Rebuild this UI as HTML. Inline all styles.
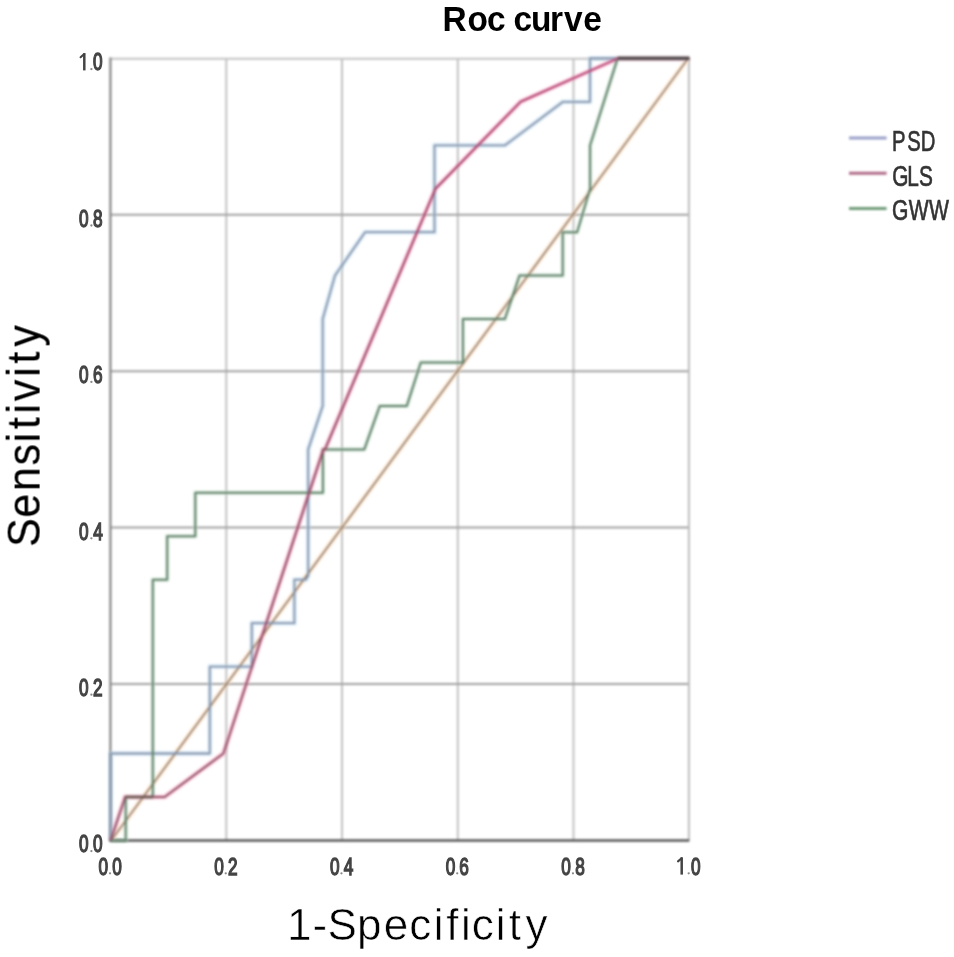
<!DOCTYPE html>
<html>
<head>
<meta charset="utf-8">
<style>
html,body{margin:0;padding:0;background:#fff;}
body{width:954px;height:957px;overflow:hidden;position:relative;font-family:"Liberation Sans",sans-serif;}
svg{position:absolute;left:0;top:0;}
.bg{filter:blur(0.8px);}
.bl{filter:blur(0.8px);}
.bt{filter:blur(0.6px);}
</style>
</head>
<body>
<svg width="954" height="957" viewBox="0 0 954 957">
<g class="bg" fill="none">
<line x1="226.3" y1="58.4" x2="226.3" y2="840.4" stroke="#c2c2c2" stroke-width="2.0"/>
<line x1="342.0" y1="58.4" x2="342.0" y2="840.4" stroke="#c2c2c2" stroke-width="2.0"/>
<line x1="457.8" y1="58.4" x2="457.8" y2="840.4" stroke="#c2c2c2" stroke-width="2.0"/>
<line x1="573.5" y1="58.4" x2="573.5" y2="840.4" stroke="#c2c2c2" stroke-width="2.0"/>
<line x1="110.6" y1="214.8" x2="689.3" y2="214.8" stroke="#a2a2a2" stroke-width="2.0"/>
<line x1="110.6" y1="371.2" x2="689.3" y2="371.2" stroke="#a2a2a2" stroke-width="2.0"/>
<line x1="110.6" y1="527.6" x2="689.3" y2="527.6" stroke="#a2a2a2" stroke-width="2.0"/>
<line x1="110.6" y1="684.0" x2="689.3" y2="684.0" stroke="#a2a2a2" stroke-width="2.0"/>
<line x1="110" y1="58.8" x2="689.3" y2="58.8" stroke="#c3c3c3" stroke-width="2"/>
<line x1="688.9" y1="58.4" x2="688.9" y2="840.4" stroke="#bdbdbd" stroke-width="2"/>
<line x1="110.4" y1="57.6" x2="110.4" y2="841" stroke="#858585" stroke-width="2.2"/>
<line x1="109.4" y1="840.5" x2="689.3" y2="840.5" stroke="#555555" stroke-width="2.6"/>
</g>
<g class="bl" fill="none" stroke-linejoin="round">
<line x1="111.2" y1="840.4" x2="688.2" y2="58.4" stroke="#fbd4ac" stroke-width="5.5" stroke-opacity="0.45"/>
<polyline stroke="#bcdcf0" stroke-width="5.5" stroke-opacity="0.45" points="110.6,840.4 110.6,753.5 209.8,753.5 209.8,666.6 251.8,666.6 251.8,623.2 294.4,623.2 294.4,579.7 305.8,579.7 308.2,575.8 308.2,449.4 322.7,405.9 322.7,319.1 335.0,275.6 365.0,232.2 434.5,232.2 434.5,145.3 505.0,145.3 563.0,101.8 590.0,101.8 590.0,58.4 689.3,58.4"/>
<polyline stroke="#cce4d0" stroke-width="5.5" stroke-opacity="0.45" points="110.6,840.4 125.7,840.4 125.7,797.0 152.8,797.0 152.8,579.7 167.2,579.7 167.2,536.3 195.3,536.3 195.3,492.8 322.9,492.8 322.9,449.4 364.3,449.4 379.8,405.9 406.8,405.9 420.8,362.5 462.9,362.5 462.9,319.1 504.8,319.1 519.5,275.6 562.7,275.6 562.7,232.2 577.1,232.2 590.1,188.7 590.1,145.3 617.6,58.4 689.3,58.4"/>
<polyline stroke="#f8a0c0" stroke-width="5.5" stroke-opacity="0.45" points="110.6,840.4 125.2,797.0 164.6,797.0 223.4,753.5 323.4,449.4 325.0,449.4 435.5,188.7 520.6,101.8 618.0,58.4 689.3,58.4"/>
<line x1="111.2" y1="840.4" x2="688.2" y2="58.4" stroke="#907868" stroke-width="1.5"/>
<polyline stroke="#8492aa" stroke-width="1.8" points="110.6,840.4 110.6,753.5 209.8,753.5 209.8,666.6 251.8,666.6 251.8,623.2 294.4,623.2 294.4,579.7 305.8,579.7 308.2,575.8 308.2,449.4 322.7,405.9 322.7,319.1 335.0,275.6 365.0,232.2 434.5,232.2 434.5,145.3 505.0,145.3 563.0,101.8 590.0,101.8 590.0,58.4 689.3,58.4"/>
<polyline stroke="#60806a" stroke-width="2.0" points="110.6,840.4 125.7,840.4 125.7,797.0 152.8,797.0 152.8,579.7 167.2,579.7 167.2,536.3 195.3,536.3 195.3,492.8 322.9,492.8 322.9,449.4 364.3,449.4 379.8,405.9 406.8,405.9 420.8,362.5 462.9,362.5 462.9,319.1 504.8,319.1 519.5,275.6 562.7,275.6 562.7,232.2 577.1,232.2 590.1,188.7 590.1,145.3 617.6,58.4 689.3,58.4"/>
<defs><linearGradient id="glsg" gradientUnits="userSpaceOnUse" x1="110" y1="840" x2="690" y2="58"><stop offset="0" stop-color="#94566a"/><stop offset="0.45" stop-color="#984e68"/><stop offset="0.75" stop-color="#aa486e"/><stop offset="1" stop-color="#bc4878"/></linearGradient></defs>
<polyline stroke="url(#glsg)" stroke-width="2.1" points="110.6,840.4 125.2,797.0 164.6,797.0 223.4,753.5 323.4,449.4 325.0,449.4 435.5,188.7 520.6,101.8 618.0,58.4 689.3,58.4"/>
<line x1="125.4" y1="797" x2="152.8" y2="797" stroke="#6a5650" stroke-width="2.6"/>
<line x1="617.8" y1="58.3" x2="689.3" y2="58.3" stroke="#4a4a48" stroke-width="3.1"/>
<line x1="849" y1="137.9" x2="886.6" y2="137.9" stroke="#9aa0c8" stroke-width="3"/>
<line x1="849" y1="173.2" x2="886.6" y2="173.2" stroke="#b06c88" stroke-width="3"/>
<line x1="849" y1="208.4" x2="886.6" y2="208.4" stroke="#6f9a78" stroke-width="3"/>
</g>
<g class="bt" font-family="Liberation Sans, sans-serif">
<text transform="scale(0.9697,1)" x="456.31 482.02 502.13 529.51 547.51 567.10 581.55 601.47" y="31.40" font-size="34.5" font-weight="bold" fill="#000">Roccurve</text>
<g font-size="24.6" fill="#444444" stroke="#444444" stroke-width="1.5">
<text transform="scale(0.7000,1)" x="112.73 133.02" y="852.40">00</text><circle cx="91.40" cy="851.10" r="1.15" fill="#8a8a8a" stroke="none"/>
<text transform="scale(0.7000,1)" x="112.73 133.02" y="696.00">02</text><circle cx="91.40" cy="694.70" r="1.15" fill="#8a8a8a" stroke="none"/>
<text transform="scale(0.7000,1)" x="112.73 133.09" y="539.60">04</text><circle cx="91.40" cy="538.30" r="1.15" fill="#8a8a8a" stroke="none"/>
<text transform="scale(0.7000,1)" x="112.73 132.93" y="383.20">06</text><circle cx="91.40" cy="381.90" r="1.15" fill="#8a8a8a" stroke="none"/>
<text transform="scale(0.7000,1)" x="112.73 133.02" y="226.80">08</text><circle cx="91.40" cy="225.50" r="1.15" fill="#8a8a8a" stroke="none"/>
<text transform="scale(0.7000,1)" x="133.02" y="70.40">0</text><line x1="84.30" y1="53.20" x2="84.30" y2="70.40" stroke-width="2.5" stroke-linecap="butt"/><line x1="80.60" y1="57.20" x2="84.20" y2="54.00" stroke-width="2.1" stroke-linecap="round"/><circle cx="91.40" cy="69.10" r="1.15" fill="#8a8a8a" stroke="none"/>
<text transform="scale(0.7000,1)" x="140.59 160.30" y="874.60">00</text><circle cx="110.00" cy="873.30" r="1.15" fill="#8a8a8a" stroke="none"/>
<text transform="scale(0.7000,1)" x="305.93 325.65" y="874.60">02</text><circle cx="225.74" cy="873.30" r="1.15" fill="#8a8a8a" stroke="none"/>
<text transform="scale(0.7000,1)" x="471.28 491.06" y="874.60">04</text><circle cx="341.48" cy="873.30" r="1.15" fill="#8a8a8a" stroke="none"/>
<text transform="scale(0.7000,1)" x="636.62 656.25" y="874.60">06</text><circle cx="457.22" cy="873.30" r="1.15" fill="#8a8a8a" stroke="none"/>
<text transform="scale(0.7000,1)" x="801.96 821.68" y="874.60">08</text><circle cx="572.96" cy="873.30" r="1.15" fill="#8a8a8a" stroke="none"/>
<text transform="scale(0.7000,1)" x="987.02" y="874.60">0</text><line x1="681.70" y1="857.40" x2="681.70" y2="874.60" stroke-width="2.5" stroke-linecap="butt"/><line x1="678.00" y1="861.40" x2="681.60" y2="858.20" stroke-width="2.1" stroke-linecap="round"/><circle cx="688.70" cy="873.30" r="1.15" fill="#8a8a8a" stroke="none"/>
</g>
<g stroke="#333" stroke-width="0.7">
<text transform="scale(0.6855,1)" x="1301.10 1323.41 1343.25" y="151.00" font-size="29.5" fill="#333">PSD</text>
<text transform="scale(0.7060,1)" x="1263.88 1284.97 1301.69" y="186.40" font-size="29.5" fill="#333">GLS</text>
<text transform="scale(0.7147,1)" x="1248.08 1271.69 1299.75" y="220.00" font-size="29.5" fill="#333">GWW</text>
</g>
<text transform="scale(0.9894,1)" x="290.19 315.92 330.93 360.88 387.92 413.63 438.41 450.93 466.00 476.80 501.03 514.21 531.15" y="940.20" font-size="44.5" fill="#000" stroke="#fff" stroke-width="0.6">1-Specificity</text>
<text transform="translate(39.60,0) rotate(-90) scale(0.9421,1)" x="-580.55 -549.53 -521.42 -493.93 -469.53 -455.55 -439.07 -425.71 -400.06 -386.02 -367.93" y="0.00" font-size="45.5" fill="#000" stroke="#000" stroke-width="0.2">Sensitivity</text>
</g>
</svg>
</body>
</html>
